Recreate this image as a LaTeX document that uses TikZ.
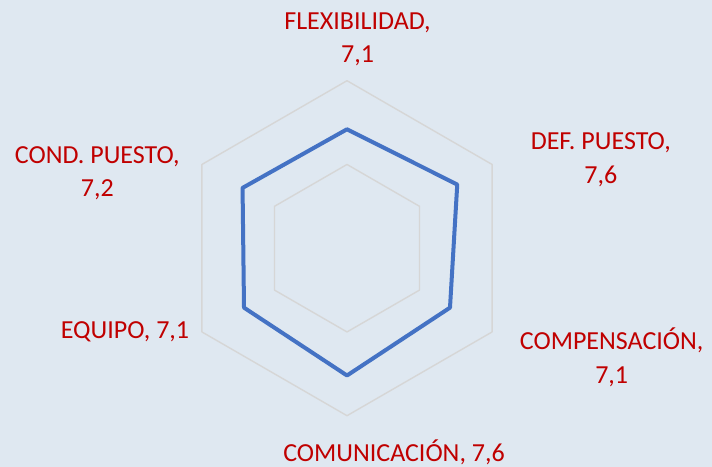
\documentclass[tikz,border=0pt]{standalone}
\usepackage{fontspec}
\setmainfont{Carlito}
\usetikzlibrary{calc}
\definecolor{bgc}{HTML}{DFE8F1}
\definecolor{gridc}{HTML}{D6D6D6}
\definecolor{serc}{HTML}{4472C4}
\definecolor{labc}{HTML}{C00000}
\tikzset{
  gridline/.style={draw=gridc, line width=1.4bp, line join=round},
  series/.style={draw=serc, line width=4bp, line join=round},
  lab/.style={text=labc, font=\fontsize{26bp}{33.4bp}\selectfont, align=center, inner sep=0pt, anchor=base},
}
\begin{document}
\begin{tikzpicture}[x=1bp, y=-1bp]
\fill[bgc] (0,0) rectangle (712,467);
\useasboundingbox (0,0) rectangle (712,467);
\coordinate (c) at (347,248.2);
\def\R{167.5}
% grid hexagons (values 5 and 10 on a 0-10 scale)
\foreach \f in {1,0.5}{
  \draw[gridline] ($(c)+(270:\f*\R)$) -- ($(c)+(330:\f*\R)$) -- ($(c)+(30:\f*\R)$)
     -- ($(c)+(90:\f*\R)$) -- ($(c)+(150:\f*\R)$) -- ($(c)+(210:\f*\R)$) -- cycle;
}
% data points
\coordinate (pF) at ($(c)+(270:0.71*\R)$);
\coordinate (pD) at ($(c)+(330:0.76*\R)$);
\coordinate (pC) at ($(c)+(30:0.71*\R)$);
\coordinate (pM) at ($(c)+(90:0.76*\R)$);
\coordinate (pE) at ($(c)+(150:0.71*\R)$);
\coordinate (pP) at ($(c)+(210:0.72*\R)$);
\draw[series] (pF) -- (pD) -- (pC) -- (pM) -- (pE) -- (pP) -- cycle;
% labels (base anchor = baseline of last line)
\node[lab] (lF) at (357.5,62.7) {FLEXIBILIDAD,\\7,1};
\node[lab] (lD) at (600.8,183.3) {DEF. PUESTO,\\7,6};
\node[lab] (lC) at (611.7,383.3) {COMPENSACIÓN,\\7,1};
\node[lab] (lM) at (394,461.7) {COMUNICACIÓN, 7,6};
\node[lab] (lE) at (125,338.3) {EQUIPO, 7,1};
\node[lab] (lP) at (97.3,196.7) {COND. PUESTO,\\7,2};
\end{tikzpicture}
\end{document}
